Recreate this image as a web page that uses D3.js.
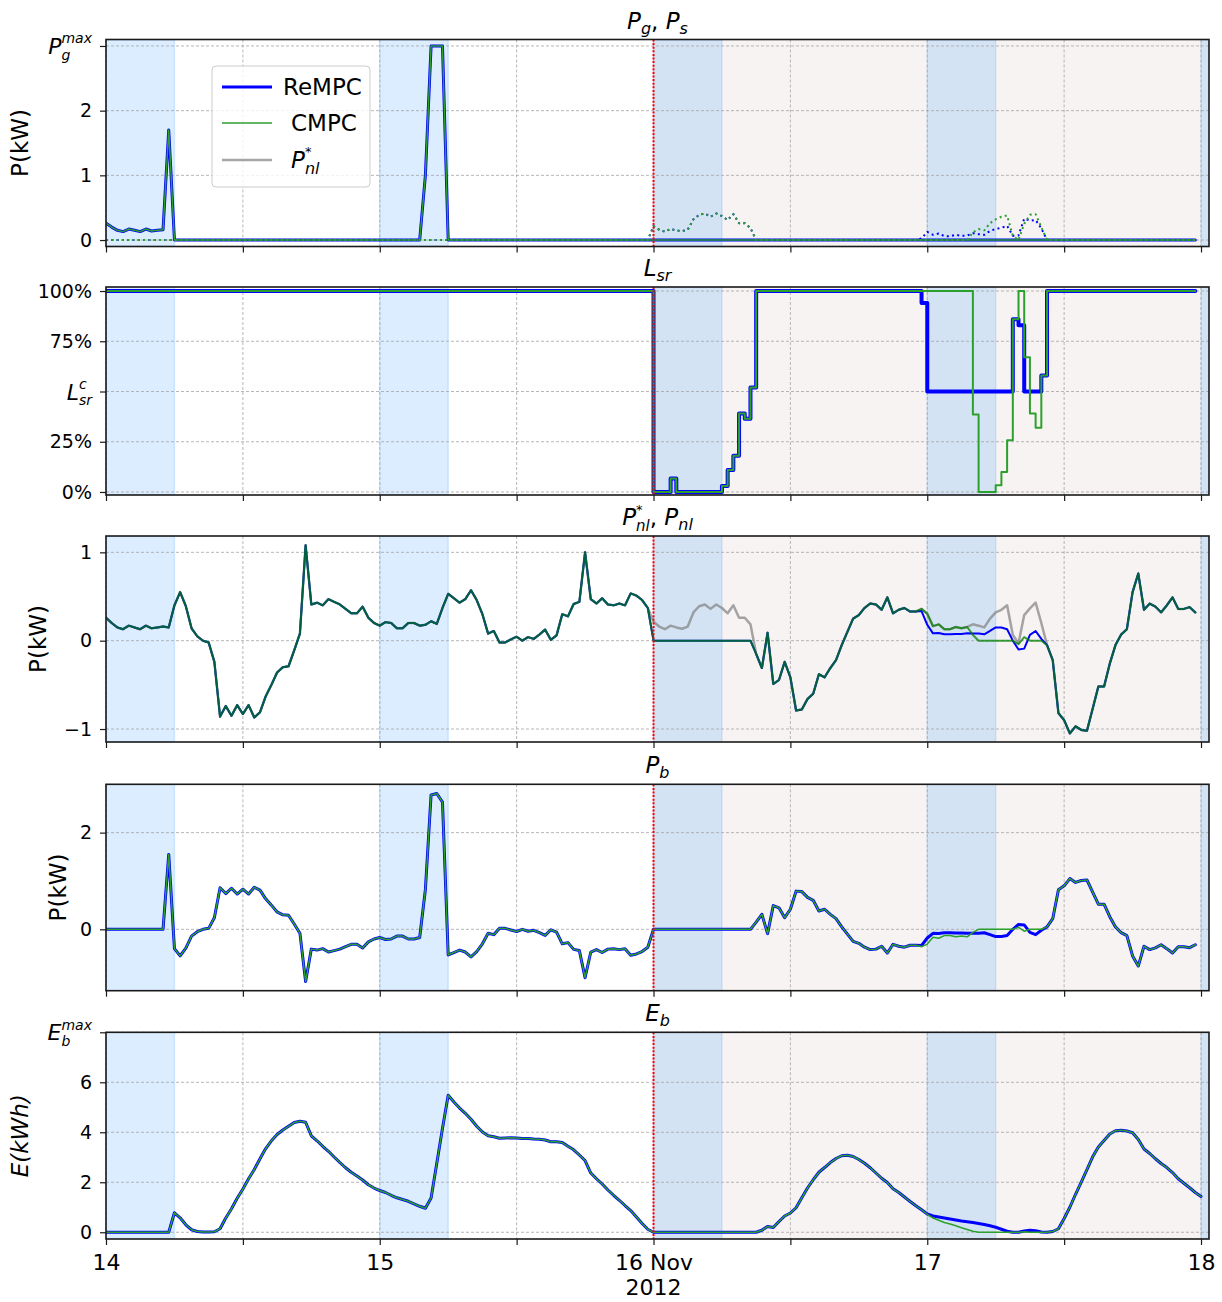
<!DOCTYPE html>
<html><head><meta charset="utf-8">
<script src="https://cdn.jsdelivr.net/npm/d3@7"></script>
<style>
body{margin:0;background:#fff}
svg{display:block}
text{font-family:"DejaVu Sans",sans-serif;fill:#000}
</style>
</head><body>
<svg id="c" width="1222" height="1302"></svg>
<script>
// ---------------- DATA (30-minute steps from 14 Nov 2012 00:00) ----------------
const START = Date.UTC(2012, 10, 14, 0, 0);
const STEP_MIN = 30;
const dayTicks = ["14", "15", "16 Nov", "17", "18"];
const yearLabel = "2012";
const seriesNames = ["ReMPC", "CMPC"];

// P_g (grid power), identical for ReMPC and CMPC
const pgReMPC = [
0.26,0.20,0.15,0.13,0.17,0.15,0.13,0.17,0.14,0.15,
0.16,1.70,0,0,0,0,0,0,0,0,
0,0,0,0,0,0,0,0,0,0,
0,0,0,0,0,0,0,0,0,0,
0,0,0,0,0,0,0,0,0,0,
0,0,0,0,0,0,1.00,3.00,3.00,3.00,
0,0,0,0,0,0,0,0,0,0,
0,0,0,0,0,0,0,0,0,0,
0,0,0,0,0,0,0,0,0,0,
0,0,0,0,0,0,0,0,0,0,
0,0,0,0,0,0,0,0,0,0,
0,0,0,0,0,0,0,0,0,0,
0,0,0,0,0,0,0,0,0,0,
0,0,0,0,0,0,0,0,0,0,
0,0,0,0,0,0,0,0,0,0,
0,0,0,0,0,0,0,0,0,0,
0,0,0,0,0,0,0,0,0,0,
0,0,0,0,0,0,0,0,0,0,
0,0,0,0,0,0,0,0,0,0,
0,0];
const pgCMPC = [
0.26,0.20,0.15,0.13,0.17,0.15,0.13,0.17,0.14,0.15,
0.16,1.70,0,0,0,0,0,0,0,0,
0,0,0,0,0,0,0,0,0,0,
0,0,0,0,0,0,0,0,0,0,
0,0,0,0,0,0,0,0,0,0,
0,0,0,0,0,0,1.00,3.00,3.00,3.00,
0,0,0,0,0,0,0,0,0,0,
0,0,0,0,0,0,0,0,0,0,
0,0,0,0,0,0,0,0,0,0,
0,0,0,0,0,0,0,0,0,0,
0,0,0,0,0,0,0,0,0,0,
0,0,0,0,0,0,0,0,0,0,
0,0,0,0,0,0,0,0,0,0,
0,0,0,0,0,0,0,0,0,0,
0,0,0,0,0,0,0,0,0,0,
0,0,0,0,0,0,0,0,0,0,
0,0,0,0,0,0,0,0,0,0,
0,0,0,0,0,0,0,0,0,0,
0,0,0,0,0,0,0,0,0,0,
0,0];

// P_s (shed power), dotted
const psReMPC = [
0,0,0,0,0,0,0,0,0,0, 0,0,0,0,0,0,0,0,0,0,
0,0,0,0,0,0,0,0,0,0, 0,0,0,0,0,0,0,0,0,0,
0,0,0,0,0,0,0,0,0,0, 0,0,0,0,0,0,0,0,0,0,
0,0,0,0,0,0,0,0,0,0, 0,0,0,0,0,0,0,0,0,0,
0,0,0,0,0,0,0,0,0,0,
0,0,0,0,0,0,0.215,0.16,0.13,0.17,
0.15,0.135,0.16,0.32,0.39,0.41,0.36,0.41,0.37,0.31,
0.40,0.26,0.26,0.185,0,0,0,0,0,0,
0,0,0,0,0,0,0,0,0,0,
0,0,0,0,0,0,0,0,0,0,
0,0,0,0.025,0.125,0.08,0.10,0.06,0.06,0.08,
0.065,0.07,0.105,0.09,0.08,0.14,0.17,0.19,0.22,0.065,
0.07,0.33,0.30,0.31,0.18,0,0,0,0,0,
0,0,0,0,0,0,0,0,0,0,
0,0,0,0,0,0,0,0,0,0,
0,0];
const psCMPC = [
0,0,0,0,0,0,0,0,0,0, 0,0,0,0,0,0,0,0,0,0,
0,0,0,0,0,0,0,0,0,0, 0,0,0,0,0,0,0,0,0,0,
0,0,0,0,0,0,0,0,0,0, 0,0,0,0,0,0,0,0,0,0,
0,0,0,0,0,0,0,0,0,0, 0,0,0,0,0,0,0,0,0,0,
0,0,0,0,0,0,0,0,0,0,
0,0,0,0,0,0,0.215,0.16,0.13,0.17,
0.15,0.135,0.16,0.32,0.39,0.41,0.36,0.41,0.37,0.31,
0.40,0.26,0.26,0.185,0,0,0,0,0,0,
0,0,0,0,0,0,0,0,0,0,
0,0,0,0,0,0,0,0,0,0,
0,0,0,0,0,0,0,0,0,0,
0,0,0.12,0.17,0.15,0.26,0.32,0.36,0.38,0.065,
0,0.25,0.39,0.40,0.20,0,0,0,0,0,
0,0,0,0,0,0,0,0,0,0,
0,0,0,0,0,0,0,0,0,0,
0,0];

// L_sr (fraction)
const lsrReMPC = [
1,1,1,1,1,1,1,1,1,1, 1,1,1,1,1,1,1,1,1,1,
1,1,1,1,1,1,1,1,1,1, 1,1,1,1,1,1,1,1,1,1,
1,1,1,1,1,1,1,1,1,1, 1,1,1,1,1,1,1,1,1,1,
1,1,1,1,1,1,1,1,1,1, 1,1,1,1,1,1,1,1,1,1,
1,1,1,1,1,1,1,1,1,1,
1,1,1,1,1,1,0,0,0,0.067,
0,0,0,0,0,0,0,0,0.03,0.11,
0.18,0.39,0.365,0.52,1,1,1,1,1,1,
1,1,1,1,1,1,1,1,1,1,
1,1,1,1,1,1,1,1,1,1,
1,1,1,0.94,0.5,0.5,0.5,0.5,0.5,0.5,
0.5,0.5,0.5,0.5,0.5,0.5,0.5,0.5,0.5,0.86,
0.83,0.5,0.5,0.5,0.58,1,1,1,1,1,
1,1,1,1,1,1,1,1,1,1,
1,1,1,1,1,1,1,1,1,1,
1,1];
const lsrCMPC = [
1,1,1,1,1,1,1,1,1,1, 1,1,1,1,1,1,1,1,1,1,
1,1,1,1,1,1,1,1,1,1, 1,1,1,1,1,1,1,1,1,1,
1,1,1,1,1,1,1,1,1,1, 1,1,1,1,1,1,1,1,1,1,
1,1,1,1,1,1,1,1,1,1, 1,1,1,1,1,1,1,1,1,1,
1,1,1,1,1,1,1,1,1,1,
1,1,1,1,1,1,0,0,0,0.067,
0,0,0,0,0,0,0,0,0.03,0.11,
0.18,0.39,0.365,0.52,1,1,1,1,1,1,
1,1,1,1,1,1,1,1,1,1,
1,1,1,1,1,1,1,1,1,1,
1,1,1,1,1,1,1,1,1,1,
1,1,0.385,0,0,0,0.033,0.10,0.257,0.86,
1,0.67,0.39,0.32,0.58,1,1,1,1,1,
1,1,1,1,1,1,1,1,1,1,
1,1,1,1,1,1,1,1,1,1,
1,1];

// P*_nl (requested net load), grey
const pnlStar = [
0.26,0.20,0.15,0.13,0.17,0.15,0.13,0.17,0.14,0.15,
0.16,0.15,0.40,0.55,0.39,0.14,0.05,0.00,-0.02,-0.24,
-0.86,-0.74,-0.85,-0.73,-0.83,-0.73,-0.87,-0.81,-0.63,-0.50,
-0.36,-0.30,-0.29,-0.11,0.08,1.08,0.41,0.43,0.40,0.47,
0.44,0.41,0.36,0.31,0.31,0.385,0.26,0.20,0.17,0.21,
0.20,0.14,0.14,0.20,0.20,0.17,0.18,0.22,0.19,0.37,
0.53,0.48,0.43,0.47,0.57,0.46,0.30,0.08,0.11,-0.02,
-0.02,0.015,0.045,0.00,0.04,0.02,0.07,0.125,0.01,0.06,
0.30,0.275,0.415,0.44,1.00,0.47,0.42,0.48,0.41,0.40,
0.42,0.40,0.535,0.51,0.46,0.37,0.215,0.16,0.13,0.17,
0.15,0.135,0.16,0.32,0.39,0.41,0.36,0.41,0.37,0.31,
0.40,0.26,0.26,0.185,-0.15,-0.31,0.09,-0.49,-0.445,-0.24,
-0.415,-0.79,-0.78,-0.66,-0.60,-0.38,-0.415,-0.31,-0.22,-0.05,
0.10,0.25,0.29,0.37,0.42,0.41,0.35,0.49,0.31,0.35,
0.37,0.33,0.33,0.36,0.305,0.165,0.185,0.13,0.13,0.155,
0.14,0.155,0.185,0.17,0.15,0.25,0.32,0.35,0.40,0.065,
-0.03,0.29,0.365,0.43,0.20,-0.05,-0.22,-0.82,-0.90,-1.05,
-0.97,-1.01,-1.02,-0.77,-0.52,-0.52,-0.26,-0.05,0.07,0.13,
0.55,0.76,0.35,0.42,0.385,0.32,0.40,0.49,0.36,0.36,
0.38,0.32];
const pnlReMPC = [
0.26,0.20,0.15,0.13,0.17,0.15,0.13,0.17,0.14,0.15,
0.16,0.15,0.40,0.55,0.39,0.14,0.05,0.00,-0.02,-0.24,
-0.86,-0.74,-0.85,-0.73,-0.83,-0.73,-0.87,-0.81,-0.63,-0.50,
-0.36,-0.30,-0.29,-0.11,0.08,1.08,0.41,0.43,0.40,0.47,
0.44,0.41,0.36,0.31,0.31,0.385,0.26,0.20,0.17,0.21,
0.20,0.14,0.14,0.20,0.20,0.17,0.18,0.22,0.19,0.37,
0.53,0.48,0.43,0.47,0.57,0.46,0.30,0.08,0.11,-0.02,
-0.02,0.015,0.045,0.00,0.04,0.02,0.07,0.125,0.01,0.06,
0.30,0.275,0.415,0.44,1.00,0.47,0.42,0.48,0.41,0.40,
0.42,0.40,0.535,0.51,0.46,0.37,0,0,0,0,
0,0,0,0,0,0,0,0,0,0,
0,0,0,0,-0.15,-0.31,0.09,-0.49,-0.445,-0.24,
-0.415,-0.79,-0.78,-0.66,-0.60,-0.38,-0.415,-0.31,-0.22,-0.05,
0.10,0.25,0.29,0.37,0.42,0.41,0.35,0.49,0.31,0.35,
0.37,0.33,0.33,0.335,0.18,0.083,0.087,0.072,0.072,0.075,
0.075,0.083,0.08,0.08,0.072,0.11,0.15,0.15,0.13,0.00,
-0.10,-0.09,0.065,0.11,0.02,-0.05,-0.22,-0.82,-0.90,-1.05,
-0.97,-1.01,-1.02,-0.77,-0.52,-0.52,-0.26,-0.05,0.07,0.13,
0.55,0.76,0.35,0.42,0.385,0.32,0.40,0.49,0.36,0.36,
0.38,0.32];
const pnlCMPC = [
0.26,0.20,0.15,0.13,0.17,0.15,0.13,0.17,0.14,0.15,
0.16,0.15,0.40,0.55,0.39,0.14,0.05,0.00,-0.02,-0.24,
-0.86,-0.74,-0.85,-0.73,-0.83,-0.73,-0.87,-0.81,-0.63,-0.50,
-0.36,-0.30,-0.29,-0.11,0.08,1.08,0.41,0.43,0.40,0.47,
0.44,0.41,0.36,0.31,0.31,0.385,0.26,0.20,0.17,0.21,
0.20,0.14,0.14,0.20,0.20,0.17,0.18,0.22,0.19,0.37,
0.53,0.48,0.43,0.47,0.57,0.46,0.30,0.08,0.11,-0.02,
-0.02,0.015,0.045,0.00,0.04,0.02,0.07,0.125,0.01,0.06,
0.30,0.275,0.415,0.44,1.00,0.47,0.42,0.48,0.41,0.40,
0.42,0.40,0.535,0.51,0.46,0.37,0,0,0,0,
0,0,0,0,0,0,0,0,0,0,
0,0,0,0,-0.15,-0.31,0.09,-0.49,-0.445,-0.24,
-0.415,-0.79,-0.78,-0.66,-0.60,-0.38,-0.415,-0.31,-0.22,-0.05,
0.10,0.25,0.29,0.37,0.42,0.41,0.35,0.49,0.31,0.35,
0.37,0.33,0.33,0.36,0.305,0.165,0.185,0.13,0.13,0.155,
0.14,0.155,0.065,0,0,0,0,0,0,0,
-0.04,0.04,0,0,0,-0.05,-0.22,-0.82,-0.90,-1.05,
-0.97,-1.01,-1.02,-0.77,-0.52,-0.52,-0.26,-0.05,0.07,0.13,
0.55,0.76,0.35,0.42,0.385,0.32,0.40,0.49,0.36,0.36,
0.38,0.32];

// P_b (battery power)
const pbReMPC = [
0,0,0,0,0,0,0,0,0,0,
0,1.55,-0.40,-0.55,-0.39,-0.14,-0.05,0,0.02,0.24,
0.86,0.74,0.85,0.73,0.83,0.73,0.87,0.81,0.63,0.50,
0.36,0.30,0.29,0.11,-0.08,-1.08,-0.41,-0.43,-0.40,-0.47,
-0.44,-0.41,-0.36,-0.31,-0.31,-0.385,-0.26,-0.20,-0.17,-0.21,
-0.20,-0.14,-0.14,-0.20,-0.20,-0.17,0.82,2.78,2.81,2.63,
-0.53,-0.48,-0.43,-0.47,-0.57,-0.46,-0.30,-0.08,-0.11,0.02,
0.02,-0.015,-0.045,0,-0.04,-0.02,-0.07,-0.125,-0.01,-0.06,
-0.30,-0.275,-0.415,-0.44,-1.00,-0.47,-0.42,-0.48,-0.41,-0.40,
-0.42,-0.40,-0.535,-0.51,-0.46,-0.37,0,0,0,0,
0,0,0,0,0,0,0,0,0,0,
0,0,0,0,0.15,0.31,-0.09,0.49,0.445,0.24,
0.415,0.79,0.78,0.66,0.60,0.38,0.415,0.31,0.22,0.05,
-0.10,-0.25,-0.29,-0.37,-0.42,-0.41,-0.35,-0.49,-0.31,-0.35,
-0.37,-0.33,-0.33,-0.335,-0.18,-0.083,-0.087,-0.072,-0.072,-0.075,
-0.075,-0.083,-0.08,-0.08,-0.072,-0.11,-0.15,-0.15,-0.13,0,
0.10,0.09,-0.065,-0.11,-0.02,0.05,0.22,0.82,0.90,1.05,
0.97,1.01,1.02,0.77,0.52,0.52,0.26,0.05,-0.07,-0.13,
-0.55,-0.76,-0.35,-0.42,-0.385,-0.32,-0.40,-0.49,-0.36,-0.36,
-0.38,-0.32];
const pbCMPC = [
0,0,0,0,0,0,0,0,0,0,
0,1.55,-0.40,-0.55,-0.39,-0.14,-0.05,0,0.02,0.24,
0.86,0.74,0.85,0.73,0.83,0.73,0.87,0.81,0.63,0.50,
0.36,0.30,0.29,0.11,-0.08,-1.08,-0.41,-0.43,-0.40,-0.47,
-0.44,-0.41,-0.36,-0.31,-0.31,-0.385,-0.26,-0.20,-0.17,-0.21,
-0.20,-0.14,-0.14,-0.20,-0.20,-0.17,0.82,2.78,2.81,2.63,
-0.53,-0.48,-0.43,-0.47,-0.57,-0.46,-0.30,-0.08,-0.11,0.02,
0.02,-0.015,-0.045,0,-0.04,-0.02,-0.07,-0.125,-0.01,-0.06,
-0.30,-0.275,-0.415,-0.44,-1.00,-0.47,-0.42,-0.48,-0.41,-0.40,
-0.42,-0.40,-0.535,-0.51,-0.46,-0.37,0,0,0,0,
0,0,0,0,0,0,0,0,0,0,
0,0,0,0,0.15,0.31,-0.09,0.49,0.445,0.24,
0.415,0.79,0.78,0.66,0.60,0.38,0.415,0.31,0.22,0.05,
-0.10,-0.25,-0.29,-0.37,-0.42,-0.41,-0.35,-0.49,-0.31,-0.35,
-0.37,-0.33,-0.33,-0.36,-0.305,-0.165,-0.185,-0.13,-0.13,-0.155,
-0.14,-0.155,-0.065,0,0,0,0,0,0,0,
0.04,-0.04,0,0,0,0.05,0.22,0.82,0.90,1.05,
0.97,1.01,1.02,0.77,0.52,0.52,0.26,0.05,-0.07,-0.13,
-0.55,-0.76,-0.35,-0.42,-0.385,-0.32,-0.40,-0.49,-0.36,-0.36,
-0.38,-0.32];

// E_b (battery energy, kWh), one more sample than the powers
const ebReMPC = [
0,0,0,0,0,0,0,0,0,0,
0,0,0.78,0.58,0.30,0.10,0.03,0.01,0.01,0.02,
0.14,0.57,0.94,1.36,1.73,2.14,2.51,2.94,3.35,3.66,
3.91,4.09,4.24,4.39,4.44,4.40,3.86,3.66,3.44,3.24,
3.01,2.79,2.58,2.40,2.25,2.09,1.90,1.77,1.67,1.59,
1.48,1.38,1.31,1.24,1.14,1.04,0.96,1.37,2.76,4.16,
5.48,5.21,4.97,4.76,4.52,4.24,4.01,3.86,3.82,3.76,
3.77,3.78,3.77,3.75,3.75,3.73,3.72,3.69,3.62,3.62,
3.59,3.44,3.30,3.09,2.87,2.37,2.14,1.93,1.69,1.48,
1.28,1.07,0.87,0.61,0.35,0.12,0,0,0,0,
0,0,0,0,0,0,0,0,0,0,
0,0,0,0,0,0.08,0.23,0.19,0.43,0.65,
0.77,0.98,1.38,1.77,2.10,2.40,2.59,2.79,2.95,3.06,
3.08,3.03,2.91,2.76,2.58,2.37,2.16,1.99,1.74,1.59,
1.41,1.23,1.06,0.90,0.73,0.65,0.61,0.57,0.53,0.49,
0.45,0.42,0.39,0.35,0.31,0.26,0.20,0.12,0.04,0,
0,0.05,0.08,0.06,0.01,0,0.03,0.14,0.55,1.00,
1.52,2.01,2.51,3.02,3.41,3.67,3.93,4.06,4.08,4.05,
3.98,3.71,3.33,3.15,2.94,2.75,2.59,2.39,2.14,1.96,
1.78,1.59,1.43];
const ebCMPC = [
0,0,0,0,0,0,0,0,0,0,
0,0,0.78,0.58,0.30,0.10,0.03,0.01,0.01,0.02,
0.14,0.57,0.94,1.36,1.73,2.14,2.51,2.94,3.35,3.66,
3.91,4.09,4.24,4.39,4.44,4.40,3.86,3.66,3.44,3.24,
3.01,2.79,2.58,2.40,2.25,2.09,1.90,1.77,1.67,1.59,
1.48,1.38,1.31,1.24,1.14,1.04,0.96,1.37,2.76,4.16,
5.48,5.21,4.97,4.76,4.52,4.24,4.01,3.86,3.82,3.76,
3.77,3.78,3.77,3.75,3.75,3.73,3.72,3.69,3.62,3.62,
3.59,3.44,3.30,3.09,2.87,2.37,2.14,1.93,1.69,1.48,
1.28,1.07,0.87,0.61,0.35,0.12,0,0,0,0,
0,0,0,0,0,0,0,0,0,0,
0,0,0,0,0,0.08,0.23,0.19,0.43,0.65,
0.77,0.98,1.38,1.77,2.10,2.40,2.59,2.79,2.95,3.06,
3.08,3.03,2.91,2.76,2.58,2.37,2.16,1.99,1.74,1.59,
1.41,1.23,1.06,0.90,0.72,0.57,0.48,0.39,0.33,0.26,
0.18,0.11,0.04,0,0,0,0,0,0,0,
0,0.02,0,0,0,0,0.03,0.14,0.55,1.00,
1.52,2.01,2.51,3.02,3.41,3.67,3.93,4.06,4.08,4.05,
3.98,3.71,3.33,3.15,2.94,2.75,2.59,2.39,2.14,1.96,
1.78,1.59,1.43];

// ---------------- DRAWING ----------------
const W = 1222, H = 1302;
const X0 = 106, X1 = 1209;
const BLUE = "#0000ff", GREEN = "#2ca02c", DKGREEN = "#008000", GREY = "#808080";
const NIGHT = "#1e90ff", FUTURE = "#f7f3f2";
const NB = "\u00a0";
const svg = d3.select("#c");
svg.append("rect").attr("width", W).attr("height", H).attr("fill", "#fff");

const tAt = i => new Date(START + i * STEP_MIN * 60000);
const x = d3.scaleUtc()
  .domain([new Date(START), new Date(Date.UTC(2012, 10, 18, 0, 42))])
  .range([X0, X1]);
const tNow = new Date(Date.UTC(2012, 10, 16));
const tEnd = x.domain()[1];
const nights = d3.utcDay.range(new Date(START), tEnd);
const halfDays = d3.utcHour.every(12).range(new Date(START), tEnd);

// one <text> per label; stacked super/subscripts are tspans sharing an x position
function richText(parent, px, py, parts, anchor, rotate) {
  const g = parent.append("g");
  const te = g.append("text");
  let cx = 0, lastStart = 0;
  parts.forEach(p => {
    const ts = te.append("tspan")
      .attr("y", p.dy || 0)
      .style("font-size", p.size + "px")
      .style("font-style", p.it ? "italic" : "normal")
      .text(p.t);
    const w = ts.node().getComputedTextLength();
    let xx;
    if (p.stack) { xx = lastStart; cx = Math.max(cx, xx + w); }
    else { xx = cx; lastStart = cx; cx = xx + w; }
    ts.attr("x", xx);
  });
  const off = anchor === "end" ? -cx : anchor === "middle" ? -cx / 2 : 0;
  g.attr("transform", `translate(${px},${py})${rotate ? " rotate(" + rotate + ")" : ""} translate(${off},0)`);
  return g;
}

let clipN = 0;
function makePanel(cfg) {
  const g = svg.append("g");
  const y = d3.scaleLinear().domain(cfg.domain).range([cfg.bottom, cfg.top]);
  const id = "clip" + (clipN++);
  svg.append("clipPath").attr("id", id).append("rect")
    .attr("x", X0).attr("y", cfg.top).attr("width", X1 - X0).attr("height", cfg.bottom - cfg.top);
  const h = cfg.bottom - cfg.top;
  g.append("rect").attr("x", x(tNow)).attr("y", cfg.top)
    .attr("width", X1 - x(tNow)).attr("height", h).attr("fill", FUTURE);
  nights.forEach(d => {
    const a = x(d), b = Math.min(x(d3.utcHour.offset(d, 6)), X1);
    g.append("rect").attr("x", a).attr("y", cfg.top).attr("width", b - a).attr("height", h)
      .attr("fill", NIGHT).attr("fill-opacity", 0.16)
      .attr("stroke", NIGHT).attr("stroke-opacity", 0.16).attr("stroke-width", 1.5)
      .attr("clip-path", `url(#${id})`);
  });
  const grid = g.append("g").attr("stroke", "#a4a4a4").attr("stroke-width", 0.8)
    .attr("stroke-dasharray", "3,2");
  halfDays.forEach(d => grid.append("line").attr("x1", x(d)).attr("x2", x(d))
    .attr("y1", cfg.top).attr("y2", cfg.bottom));
  cfg.yticks.forEach(v => grid.append("line").attr("x1", X0).attr("x2", X1)
    .attr("y1", y(v)).attr("y2", y(v)));
  const lines = g.append("g").attr("clip-path", `url(#${id})`).attr("fill", "none");
  cfg.series.forEach(s => {
    const gen = d3.line().x((d, i) => x(tAt(i))).y(d => y(d));
    if (s.step) gen.curve(d3.curveStepAfter);
    lines.append("path").datum(s.data).attr("d", gen)
      .attr("stroke", s.color).attr("stroke-width", s.w)
      .attr("stroke-opacity", s.op || 1)
      .attr("stroke-dasharray", s.dash || null)
      .attr("stroke-linejoin", "round").attr("stroke-linecap", s.dash ? "butt" : "round");
  });
  g.append("line").attr("x1", x(tNow)).attr("x2", x(tNow)).attr("y1", cfg.top).attr("y2", cfg.bottom)
    .attr("stroke", "#ff0000").attr("stroke-width", 2).attr("stroke-dasharray", "2,1.6");
  g.append("rect").attr("x", X0).attr("y", cfg.top).attr("width", X1 - X0).attr("height", h)
    .attr("fill", "none").attr("stroke", "#1a1a1a").attr("stroke-width", 1.6);
  const ya = g.append("g").attr("transform", `translate(${X0},0)`)
    .call(d3.axisLeft(y).tickValues(cfg.yticks).tickSize(6).tickPadding(8)
      .tickFormat((v, i) => typeof cfg.ylabels[i] === "string" ? cfg.ylabels[i] : ""));
  ya.select(".domain").remove();
  ya.selectAll("line").attr("stroke", "#1a1a1a").attr("stroke-width", 1.2);
  ya.selectAll("text").style("font-size", "19px").style("font-family", "DejaVu Sans").attr("fill", "#000");
  cfg.yticks.forEach((v, i) => {
    const lab = cfg.ylabels[i];
    if (typeof lab !== "string") richText(g, X0 - 14, y(v) + 8, lab, "end");
  });
  const xa = g.append("g").attr("transform", `translate(0,${cfg.bottom})`)
    .call(d3.axisBottom(x).tickValues(halfDays).tickSize(6).tickPadding(9)
      .tickFormat(d => {
        if (!cfg.xlabels || d.getUTCHours() !== 0) return "";
        return dayTicks[d.getUTCDate() - 14] || "";
      }));
  xa.select(".domain").remove();
  xa.selectAll("line").attr("stroke", "#1a1a1a").attr("stroke-width", 1.2);
  xa.selectAll("text").style("font-size", "22px").style("font-family", "DejaVu Sans").attr("fill", "#000");
  if (cfg.xlabels) {
    g.append("text").attr("x", x(tNow)).attr("y", cfg.bottom + 56).attr("text-anchor", "middle")
      .style("font-size", "22px").text(yearLabel);
  }
  richText(g, (X0 + X1) / 2, cfg.top - 11, cfg.title, "middle");
  if (cfg.ylabel) richText(g, cfg.ylabelX, (cfg.top + cfg.bottom) / 2, cfg.ylabel, "middle", -90);
  return { g, y };
}

const T = 23, S = 16;
const TB = 22, TS = 14; // math tick labels
const SUP = -10.5, SUB = 5.8;
makePanel({
  top: 39.5, bottom: 246.5, domain: [-0.1, 3.1],
  yticks: [0, 1, 2, 3],
  ylabels: ["0", "1", "2", [{t:"P",size:TB,it:true},{t:"max",size:TS,it:true,dy:SUP},{t:"g",size:TS,it:true,dy:SUB,stack:true}]],
  title: [{t:"P",size:T,it:true},{t:"g",size:S,it:true,dy:5},{t:","+NB,size:T},{t:"P",size:T,it:true},{t:"s",size:S,it:true,dy:5}],
  ylabel: [{t:"P(kW)",size:23}], ylabelX: 28,
  series: [
    {data: pgReMPC, color: BLUE, w: 3},
    {data: psReMPC, color: BLUE, w: 2, dash: "2,3.3"},
    {data: pgCMPC, color: GREEN, w: 1.5},
    {data: psCMPC, color: GREEN, w: 2, dash: "2,3.3"}
  ]
});
makePanel({
  top: 287, bottom: 495, domain: [-0.015, 1.02],
  yticks: [0, 0.25, 0.5, 0.75, 1],
  ylabels: ["0%", "25%", [{t:"L",size:TB,it:true},{t:"c",size:TS,it:true,dy:SUP},{t:"sr",size:TS,it:true,dy:SUB,stack:true}], "75%", "100%"],
  title: [{t:"L",size:T,it:true},{t:"sr",size:S,it:true,dy:5}],
  series: [
    {data: lsrReMPC, color: BLUE, w: 4, step: true},
    {data: lsrCMPC, color: GREEN, w: 2, step: true}
  ]
});
makePanel({
  top: 536, bottom: 742, domain: [-1.147, 1.185],
  yticks: [-1, 0, 1],
  ylabels: ["\u22121", "0", "1"],
  title: [{t:"P",size:T,it:true},{t:"*",size:13,dy:-11},{t:"nl",size:15,it:true,dy:6,stack:true},{t:","+NB,size:T},{t:"P",size:T,it:true},{t:"nl",size:S,it:true,dy:5}],
  ylabel: [{t:"P(kW)",size:23}], ylabelX: 46,
  series: [
    {data: pnlStar, color: GREY, w: 2.5, op: 0.7},
    {data: pnlReMPC, color: BLUE, w: 2},
    {data: pnlCMPC, color: DKGREEN, w: 2, op: 0.75}
  ]
});
makePanel({
  top: 784.3, bottom: 990.7, domain: [-1.27, 3.0],
  yticks: [0, 2],
  ylabels: ["0", "2"],
  title: [{t:"P",size:T,it:true},{t:"b",size:S,it:true,dy:5}],
  ylabel: [{t:"P(kW)",size:23}], ylabelX: 66,
  series: [
    {data: pbReMPC, color: BLUE, w: 3},
    {data: pbCMPC, color: GREEN, w: 1.5}
  ]
});
makePanel({
  top: 1032.3, bottom: 1239, domain: [-0.27, 8.0],
  yticks: [0, 2, 4, 6, 8],
  ylabels: ["0", "2", "4", "6", [{t:"E",size:TB,it:true},{t:"max",size:TS,it:true,dy:SUP},{t:"b",size:TS,it:true,dy:SUB,stack:true}]],
  title: [{t:"E",size:T,it:true},{t:"b",size:S,it:true,dy:5}],
  ylabel: [{t:"E(kWh)",size:23,it:true}], ylabelX: 28,
  xlabels: true,
  series: [
    {data: ebReMPC, color: BLUE, w: 3},
    {data: ebCMPC, color: GREEN, w: 1.5}
  ]
});

// legend in first panel
const lg = svg.append("g");
lg.append("rect").attr("x", 212).attr("y", 66).attr("width", 158).attr("height", 121).attr("rx", 4)
  .attr("fill", "#fff").attr("fill-opacity", 0.8).attr("stroke", "#cccccc").attr("stroke-width", 1);
const legendItems = [
  {name: seriesNames[0], color: BLUE, w: 3, op: 1, y: 87, tx: 283},
  {name: seriesNames[1], color: GREEN, w: 1.5, op: 1, y: 123, tx: 291},
  {name: null, color: GREY, w: 2.5, op: 0.7, y: 160, tx: 291}
];
legendItems.forEach(it => {
  lg.append("line").attr("x1", 222).attr("x2", 272).attr("y1", it.y).attr("y2", it.y)
    .attr("stroke", it.color).attr("stroke-width", it.w).attr("stroke-opacity", it.op);
  if (it.name) lg.append("text").attr("x", it.tx).attr("y", it.y + 8).style("font-size", "23px").text(it.name);
  else richText(lg, it.tx, it.y + 8, [{t:"P",size:23,it:true},{t:"*",size:13,dy:-12},{t:"nl",size:16,it:true,dy:6,stack:true}], "start");
});
</script>
</body></html>
